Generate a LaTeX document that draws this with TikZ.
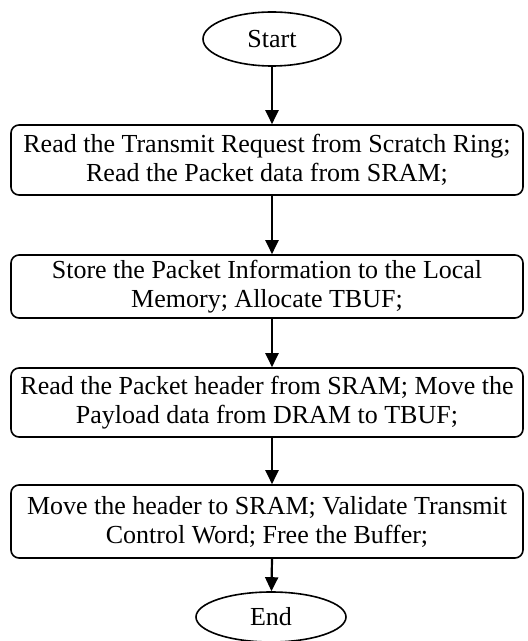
\documentclass[tikz,border=0pt]{standalone}
\usepackage{fontspec}
\setmainfont{Liberation Serif}
\usetikzlibrary{shapes.geometric,arrows.meta}
\begin{document}
\begin{tikzpicture}[x=1pt,y=1pt,
  txt/.style={font=\fontsize{26}{29}\selectfont},
  procbox/.style={txt, draw, rounded corners=8pt, line width=1.6pt,
    minimum width=512pt, align=center, inner sep=0pt},
  terminal/.style={txt, draw, ellipse, line width=1.6pt, inner sep=0pt},
  flow/.style={-{Triangle[length=14pt,width=13pt]}, line width=2.2pt}]
\useasboundingbox (0,0) rectangle (528,641);
\node[terminal, minimum width=138pt, minimum height=54pt] (start) at (272,602) {Start};
\node[procbox, minimum height=70pt] (b1) at (267,481)
  {Read the Transmit Request from Scratch Ring;\\Read the Packet data from SRAM;};
\node[procbox, minimum height=63pt] (b2) at (267,354.5)
  {Store the Packet Information to the Local\\Memory; Allocate TBUF;};
\node[procbox, minimum height=69pt] (b3) at (267,238.5)
  {Read the Packet header from SRAM; Move the\\Payload data from DRAM to TBUF;};
\node[procbox, minimum height=73pt] (b4) at (267,119.5)
  {Move the header to SRAM; Validate Transmit\\Control Word; Free the Buffer;};
\node[terminal, minimum width=150pt, minimum height=50pt] (end) at (271,24) {End};
\draw[flow] (start) -- (b1.north -| start.south);
\draw[flow] (b1.south -| start.south) -- (b2.north -| start.south);
\draw[flow] (b2.south -| start.south) -- (b3.north -| start.south);
\draw[flow] (b3.south -| start.south) -- (b4.north -| start.south);
\draw[flow] (b4.south -| start.south) -- (end);
\end{tikzpicture}
\end{document}
